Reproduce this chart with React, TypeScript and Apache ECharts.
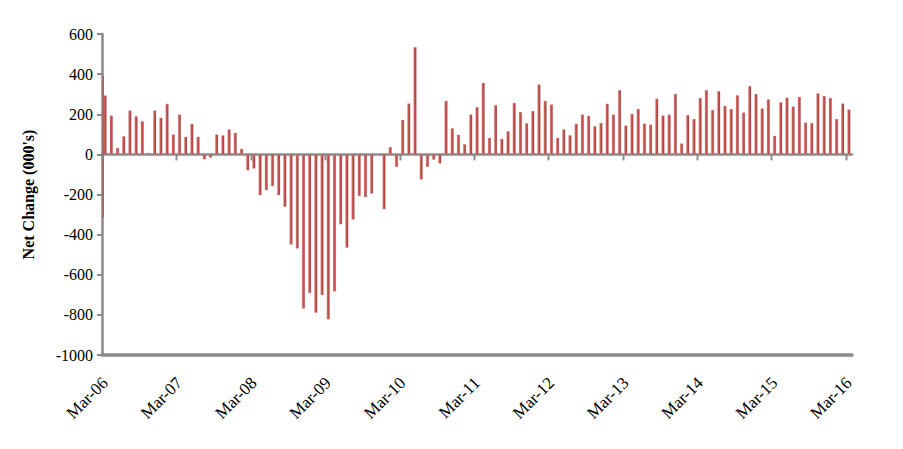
import React, { useEffect, useRef } from "react";
import * as echarts from "echarts";

// Monthly categories Mar-06 .. Mar-16
const monthNames = ["Jan", "Feb", "Mar", "Apr", "May", "Jun", "Jul", "Aug", "Sep", "Oct", "Nov", "Dec"];
const categories: string[] = [];
for (let i = 0; i < 121; i++) {
  const m = (2 + i) % 12;
  const y = 6 + Math.floor((2 + i) / 12);
  categories.push(`${monthNames[m]}-${String(y).padStart(2, "0")}`);
}

// Net change (000's)
const netChange2006 = [294, 194, 33, 91, 219, 191, 166, 8, 219, 183, 252, 100];
const netChange2007 = [199, 88, 153, 88, -25, -17, 100, 95, 125, 108, 28, -80];
const netChange2008 = [-71, -204, -179, -159, -204, -262, -450, -470, -769, -692, -790, -702];
const netChange2009 = [-823, -684, -349, -466, -325, -208, -214, -196, 0, -274, 37, -63];
const netChange2010 = [173, 254, 535, -126, -63, -27, -46, 267, 131, 98, 51, 199];
const netChange2011 = [236, 357, 83, 246, 78, 116, 257, 212, 156, 217, 349, 267];
const netChange2012 = [249, 83, 125, 96, 153, 199, 193, 141, 157, 253, 199, 321];
const netChange2013 = [144, 202, 227, 154, 149, 278, 194, 199, 302, 55, 197, 177];
const netChange2014 = [282, 321, 222, 316, 242, 227, 295, 209, 341, 302, 230, 275];
const netChange2015 = [93, 260, 283, 239, 287, 159, 157, 305, 292, 282, 177, 254];
const netChange2016 = [224];
const netChange = [
  ...netChange2006, ...netChange2007, ...netChange2008, ...netChange2009,
  ...netChange2010, ...netChange2011, ...netChange2012, ...netChange2013,
  ...netChange2014, ...netChange2015, ...netChange2016,
];

// category indices where the zero line carries a year tick (left boundary)
const yearTickIndex = [0, 12, 24, 36, 48, 60, 72, 84, 96, 108, 120];

// thin red stroke drawn over the value axis at the first category (top, bottom)
const edgeArtifact = [390, -315];

const yMin = -1000;
const yMax = 600;
const yStep = 200;

export default function App() {
  const ref = useRef<HTMLDivElement>(null);

  useEffect(() => {
    document.body.style.margin = "0";
    if (!ref.current) return;
    const chart = echarts.init(ref.current, null, { renderer: "svg" });
    const serif = "'Liberation Serif', 'Times New Roman', serif";
    const gray = "#8a8a8a";

    chart.setOption({
      animation: false,
      backgroundColor: "#ffffff",
      grid: { left: 102, right: 51, top: 34, bottom: 94, containLabel: false },
      xAxis: [
        {
          type: "category",
          data: categories,
          position: "bottom",
          boundaryGap: true,
          axisLine: { onZero: false, lineStyle: { color: gray, width: 3.5 } },
          axisTick: { show: false },
          axisLabel: {
            interval: 11,
            rotate: 45,
            margin: 25,
            fontFamily: serif,
            fontSize: 17,
            color: "#000",
          },
          splitLine: { show: false },
        },
        {
          type: "category",
          data: categories,
          position: "bottom",
          boundaryGap: true,
          axisLine: { onZero: true, lineStyle: { color: gray, width: 2.5 } },
          axisTick: { show: false },
          axisLabel: { show: false },
          splitLine: { show: false },
        },
      ],
      yAxis: {
        type: "value",
        min: yMin,
        max: yMax,
        interval: yStep,
        name: "Net Change (000's)",
        nameLocation: "middle",
        nameGap: 66,
        nameTextStyle: {
          fontFamily: serif,
          fontWeight: "bold",
          fontSize: 16,
          color: "#000",
        },
        axisLine: { show: true, lineStyle: { color: gray, width: 2.5 } },
        axisTick: { show: true, length: 5, lineStyle: { color: gray, width: 2 } },
        axisLabel: {
          fontFamily: serif,
          fontSize: 16,
          color: "#000",
          margin: 9,
          formatter: (v: number) => String(v),
        },
        splitLine: { show: false },
      },
      series: [
        {
          type: "bar",
          xAxisIndex: 0,
          data: netChange,
          barWidth: 3.2,
          itemStyle: {
            color: new echarts.graphic.LinearGradient(0, 0, 1, 0, [
              { offset: 0, color: "#d2615d" },
              { offset: 0.55, color: "#c0504d" },
              { offset: 1, color: "#8c2d2a" },
            ]),
            borderColor: "rgba(220,140,140,0.55)",
            borderWidth: 0.6,
          },
        },
        {
          type: "custom",
          xAxisIndex: 0,
          data: [[0, edgeArtifact[0], edgeArtifact[1]]],
          renderItem: (params: any, api: any) => {
            const top = api.coord([api.value(0), api.value(1)]);
            const bot = api.coord([api.value(0), api.value(2)]);
            const band = api.size([1, 0])[0];
            return {
              type: "rect",
              shape: { x: top[0] - band / 2 + 0.6, y: top[1], width: 1.3, height: bot[1] - top[1] },
              style: { fill: "#c0504d" },
            };
          },
          z: 3,
        },
        {
          type: "custom",
          xAxisIndex: 0,
          data: yearTickIndex.map((i) => [i, 0]),
          renderItem: (params: any, api: any) => {
            const p = api.coord([api.value(0), api.value(1)]);
            const band = api.size([1, 0])[0];
            const x = Math.round(p[0] - band / 2) + 0.5;
            return {
              type: "line",
              shape: { x1: x, y1: p[1], x2: x, y2: p[1] + 6 },
              style: { stroke: gray, lineWidth: 2 },
            };
          },
          z: 4,
          silent: true,
        },
      ],
    });

    return () => chart.dispose();
  }, []);

  return <div ref={ref} style={{ width: 903, height: 449 }} />;
}
